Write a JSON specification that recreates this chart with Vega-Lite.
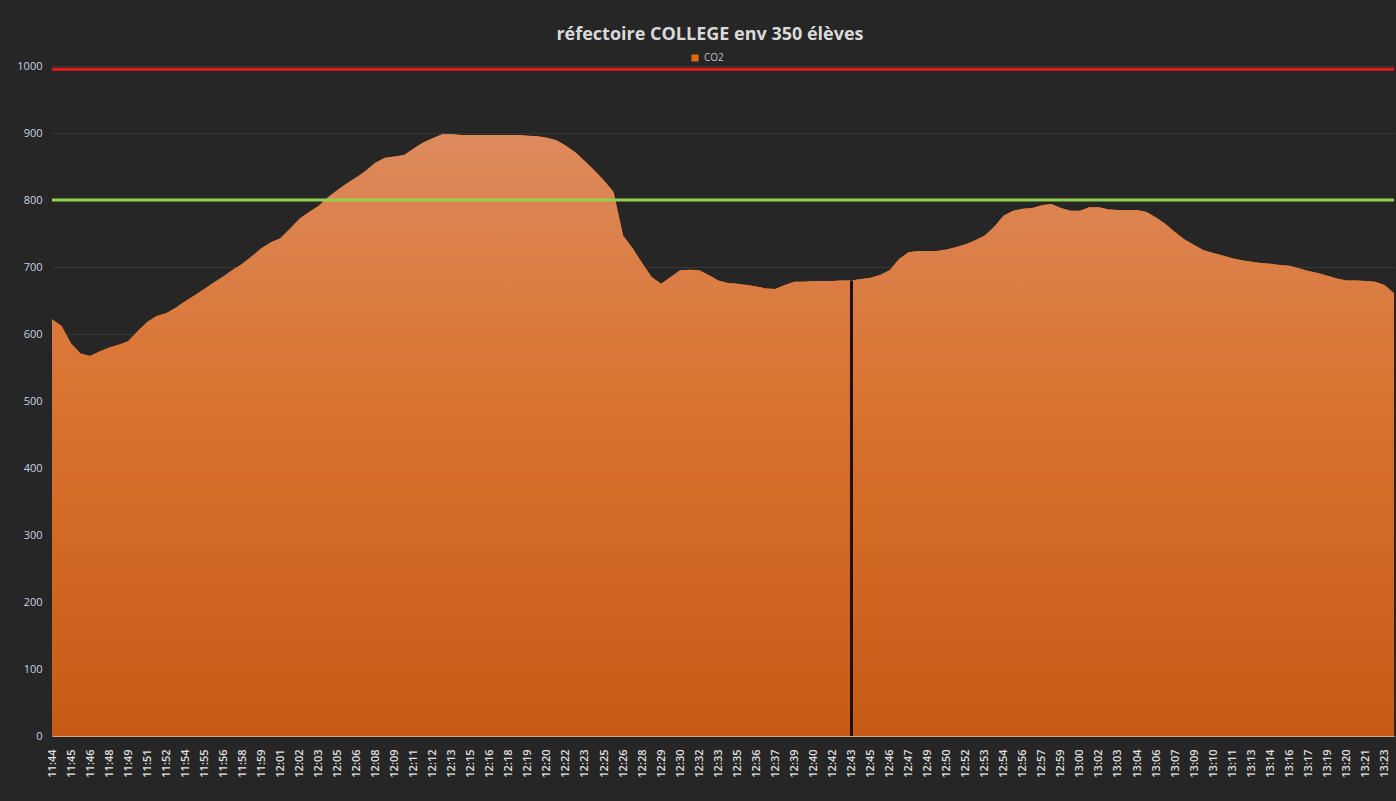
{
  "$schema": "https://vega.github.io/schema/vega-lite/v6.json",
  "autosize": "none",
  "width": 1342,
  "height": 670,
  "padding": {"left": 52, "top": 66, "right": 2, "bottom": 65},
  "background": "#262626",
  "title": {
    "text": "réfectoire COLLEGE env 350 élèves",
    "font": "Open Sans",
    "fontSize": 18,
    "fontWeight": "bold",
    "color": "#d9d9d9",
    "anchor": "middle",
    "dx": -13,
    "offset": 9
  },
  "data": {
    "values": [
      {"t": "11:44", "co2": 622}, {"t": "11:44:42", "co2": 612},
      {"t": "11:45", "co2": 586}, {"t": "11:45:42", "co2": 571},
      {"t": "11:46", "co2": 567}, {"t": "11:46:42", "co2": 574},
      {"t": "11:48", "co2": 580}, {"t": "11:48:42", "co2": 584},
      {"t": "11:49", "co2": 589}, {"t": "11:49:42", "co2": 604},
      {"t": "11:51", "co2": 618}, {"t": "11:51:42", "co2": 627},
      {"t": "11:52", "co2": 631}, {"t": "11:52:42", "co2": 639},
      {"t": "11:54", "co2": 649}, {"t": "11:54:42", "co2": 658},
      {"t": "11:55", "co2": 667}, {"t": "11:55:42", "co2": 677},
      {"t": "11:56", "co2": 686}, {"t": "11:56:42", "co2": 696},
      {"t": "11:58", "co2": 705}, {"t": "11:58:42", "co2": 716},
      {"t": "11:59", "co2": 728}, {"t": "11:59:42", "co2": 737},
      {"t": "12:01", "co2": 743}, {"t": "12:01:42", "co2": 757},
      {"t": "12:02", "co2": 772}, {"t": "12:02:42", "co2": 782},
      {"t": "12:03", "co2": 791}, {"t": "12:03:42", "co2": 804},
      {"t": "12:05", "co2": 815}, {"t": "12:05:42", "co2": 825},
      {"t": "12:06", "co2": 834}, {"t": "12:06:42", "co2": 844},
      {"t": "12:08", "co2": 856}, {"t": "12:08:42", "co2": 863},
      {"t": "12:09", "co2": 865}, {"t": "12:09:42", "co2": 867},
      {"t": "12:11", "co2": 877}, {"t": "12:11:42", "co2": 886},
      {"t": "12:12", "co2": 892}, {"t": "12:12:42", "co2": 898},
      {"t": "12:13", "co2": 898}, {"t": "12:13:42", "co2": 897},
      {"t": "12:15", "co2": 897}, {"t": "12:15:42", "co2": 897},
      {"t": "12:16", "co2": 897}, {"t": "12:16:42", "co2": 897},
      {"t": "12:18", "co2": 897}, {"t": "12:18:42", "co2": 897},
      {"t": "12:19", "co2": 896}, {"t": "12:19:42", "co2": 895},
      {"t": "12:20", "co2": 893}, {"t": "12:20:42", "co2": 889},
      {"t": "12:22", "co2": 881}, {"t": "12:22:42", "co2": 871},
      {"t": "12:23", "co2": 858}, {"t": "12:23:42", "co2": 844},
      {"t": "12:25", "co2": 829}, {"t": "12:25:42", "co2": 812},
      {"t": "12:26", "co2": 747}, {"t": "12:26:42", "co2": 728},
      {"t": "12:28", "co2": 706}, {"t": "12:28:42", "co2": 685},
      {"t": "12:29", "co2": 675}, {"t": "12:29:42", "co2": 685},
      {"t": "12:30", "co2": 695}, {"t": "12:30:42", "co2": 696},
      {"t": "12:32", "co2": 695}, {"t": "12:32:42", "co2": 688},
      {"t": "12:33", "co2": 680}, {"t": "12:33:42", "co2": 676},
      {"t": "12:35", "co2": 675}, {"t": "12:35:42", "co2": 673},
      {"t": "12:36", "co2": 671}, {"t": "12:36:42", "co2": 668},
      {"t": "12:37", "co2": 667}, {"t": "12:37:42", "co2": 673},
      {"t": "12:39", "co2": 678}, {"t": "12:39:42", "co2": 678},
      {"t": "12:40", "co2": 679}, {"t": "12:40:42", "co2": 679},
      {"t": "12:42", "co2": 679}, {"t": "12:42:42", "co2": 680},
      {"t": "12:43", "co2": 680}, {"t": "12:43:42", "co2": 682},
      {"t": "12:45", "co2": 684}, {"t": "12:45:42", "co2": 688},
      {"t": "12:46", "co2": 695}, {"t": "12:46:42", "co2": 712},
      {"t": "12:47", "co2": 722}, {"t": "12:47:42", "co2": 724},
      {"t": "12:49", "co2": 724}, {"t": "12:49:42", "co2": 724},
      {"t": "12:50", "co2": 726}, {"t": "12:50:42", "co2": 730},
      {"t": "12:52", "co2": 734}, {"t": "12:52:42", "co2": 740},
      {"t": "12:53", "co2": 747}, {"t": "12:53:42", "co2": 760},
      {"t": "12:54", "co2": 777}, {"t": "12:54:42", "co2": 784},
      {"t": "12:56", "co2": 787}, {"t": "12:56:42", "co2": 788},
      {"t": "12:57", "co2": 792}, {"t": "12:57:42", "co2": 794},
      {"t": "12:59", "co2": 788}, {"t": "12:59:42", "co2": 784},
      {"t": "13:00", "co2": 784}, {"t": "13:00:42", "co2": 789},
      {"t": "13:02", "co2": 789}, {"t": "13:02:42", "co2": 786},
      {"t": "13:03", "co2": 785}, {"t": "13:03:42", "co2": 785},
      {"t": "13:04", "co2": 785}, {"t": "13:04:42", "co2": 782},
      {"t": "13:06", "co2": 774}, {"t": "13:06:42", "co2": 764},
      {"t": "13:07", "co2": 752}, {"t": "13:07:42", "co2": 741},
      {"t": "13:09", "co2": 733}, {"t": "13:09:42", "co2": 725},
      {"t": "13:10", "co2": 721}, {"t": "13:10:42", "co2": 717},
      {"t": "13:11", "co2": 713}, {"t": "13:11:42", "co2": 710},
      {"t": "13:13", "co2": 708}, {"t": "13:13:42", "co2": 706},
      {"t": "13:14", "co2": 705}, {"t": "13:14:42", "co2": 703},
      {"t": "13:16", "co2": 702}, {"t": "13:16:42", "co2": 698},
      {"t": "13:17", "co2": 694}, {"t": "13:17:42", "co2": 691},
      {"t": "13:19", "co2": 687}, {"t": "13:19:42", "co2": 683},
      {"t": "13:20", "co2": 680}, {"t": "13:20:42", "co2": 680},
      {"t": "13:21", "co2": 679}, {"t": "13:21:42", "co2": 678},
      {"t": "13:23", "co2": 673}, {"t": "13:23:42", "co2": 661}
    ]
  },
  "encoding": {
    "x": {
      "field": "t",
      "type": "ordinal",
      "sort": null,
      "scale": {"type": "point", "padding": 0},
      "axis": {
        "title": null,
        "values": ["11:44","11:45","11:46","11:48","11:49","11:51","11:52","11:54","11:55","11:56","11:58","11:59","12:01","12:02","12:03","12:05","12:06","12:08","12:09","12:11","12:12","12:13","12:15","12:16","12:18","12:19","12:20","12:22","12:23","12:25","12:26","12:28","12:29","12:30","12:32","12:33","12:35","12:36","12:37","12:39","12:40","12:42","12:43","12:45","12:46","12:47","12:49","12:50","12:52","12:53","12:54","12:56","12:57","12:59","13:00","13:02","13:03","13:04","13:06","13:07","13:09","13:10","13:11","13:13","13:14","13:16","13:17","13:19","13:20","13:21","13:23"],
        "labelAngle": -90,
        "labelFont": "Open Sans",
        "labelFontSize": 11,
        "labelFontWeight": 600,
        "labelColor": "#e0e0e0",
        "labelPadding": 13,
        "ticks": false,
        "grid": false,
        "domain": true,
        "domainColor": "#d6a887",
        "domainWidth": 1
      }
    },
    "y": {
      "field": "co2",
      "type": "quantitative",
      "scale": {"domain": [0, 1000], "nice": false},
      "axis": {
        "title": null,
        "format": "d",
        "values": [0,100,200,300,400,500,600,700,800,900,1000],
        "labelFont": "Open Sans",
        "labelFontSize": 11,
        "labelColor": "#c9d1e3",
        "labelPadding": 10,
        "ticks": false,
        "domain": false,
        "grid": true,
        "gridColor": "#383838",
        "gridWidth": 1
      }
    }
  },
  "layer": [
    {
      "mark": {"type": "area", "interpolate": "linear"},
      "encoding": {
        "color": {
          "datum": "CO2",
          "scale": {"range": ["#e36c0a"]},
          "legend": {
            "orient": "none",
            "legendX": 638,
            "legendY": -13,
            "title": null,
            "symbolType": "square",
            "symbolSize": 50,
            "symbolStrokeWidth": 0,
            "labelFont": "Open Sans",
            "labelFontSize": 10,
            "labelColor": "#bfbfbf"
          }
        }
      }
    },
    {
      "mark": {
        "type": "area",
        "interpolate": "linear",
        "fill": {
          "gradient": "linear",
          "x1": 0, "y1": 0, "x2": 0, "y2": 1,
          "stops": [
            {"offset": 0, "color": "#dd8a5d"},
            {"offset": 0.45, "color": "#d9722f"},
            {"offset": 1, "color": "#c75b16"}
          ]
        }
      }
    },
    {
      "data": {"values": [{"seuil": 800}]},
      "mark": {"type": "rule", "color": "#92d050", "strokeWidth": 3},
      "encoding": {"x": null, "y": {"field": "seuil", "type": "quantitative"}}
    },
    {
      "data": {"values": [{"seuil": 995}]},
      "mark": {"type": "rule", "color": "#e8191c", "strokeWidth": 3},
      "encoding": {"x": null, "y": {"field": "seuil", "type": "quantitative"}}
    },
    {
      "data": {"values": [{"t": "12:43", "lo": 0, "hi": 680}]},
      "mark": {"type": "rule", "color": "#1f1209", "strokeWidth": 3},
      "encoding": {
        "y": {"field": "lo", "type": "quantitative"},
        "y2": {"field": "hi"}
      }
    }
  ],
  "config": {
    "view": {"stroke": null}
  }
}
